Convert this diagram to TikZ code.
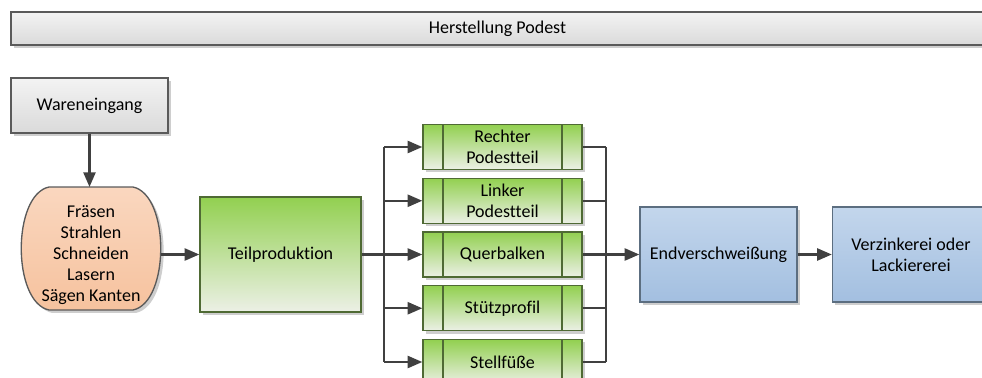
\documentclass[tikz,border=0pt]{standalone}
\usepackage{fontspec}
\setmainfont{Carlito}[Ligatures={NoCommon}]
\usetikzlibrary{arrows.meta,shadows}
\definecolor{linegray}{HTML}{404040}
\definecolor{edgegray}{HTML}{5A5A5A}
\definecolor{edgegreen}{HTML}{4F6A34}
\definecolor{edgeblue}{HTML}{5C6E80}
\definecolor{greentop}{HTML}{92D050}
\definecolor{greenbot}{HTML}{ECF0E6}
\definecolor{peachtop}{HTML}{FAD7BF}
\definecolor{peachbot}{HTML}{F6C29E}
\definecolor{bluetop}{HTML}{C3D6EC}
\definecolor{bluebot}{HTML}{A3BFE0}
\definecolor{graytop}{HTML}{F3F3F3}
\definecolor{graybot}{HTML}{DADADA}
\begin{document}
\begin{tikzpicture}[x=0.75pt,y=-0.75pt,
    every node/.style={font=\fontsize{13.5}{15.8}\selectfont, align=center, inner sep=0pt},
    boxshadow/.style={drop shadow={shadow xshift=2.2pt,shadow yshift=-2.2pt,opacity=0.35,fill=black!55}},
    graybox/.style={rectangle, draw=edgegray, line width=1pt, top color=graytop, bottom color=graybot, boxshadow},
    greenbox/.style={rectangle, draw=edgegreen, line width=1pt, top color=greentop, bottom color=greenbot, boxshadow},
    bluebox/.style={rectangle, draw=edgeblue, line width=1pt, top color=bluetop, bottom color=bluebot, boxshadow},
    partbox/.style={greenbox, minimum width=119.25pt, minimum height=33.75pt,
      path picture={
        \draw[edgegreen, line width=1.2pt] ([xshift=15pt]path picture bounding box.north west) -- ([xshift=15pt]path picture bounding box.south west);
        \draw[edgegreen, line width=1.2pt] ([xshift=-15pt]path picture bounding box.north east) -- ([xshift=-15pt]path picture bounding box.south east);
      }},
    flow/.style={draw=linegray, line width=1.8pt},
    arr/.style={flow, -{Triangle[length=11pt,width=9pt]}}]
  \clip (0,0) rectangle (982,378);

  \node [graybox, minimum width=729.75pt, minimum height=24.75pt] (T) at (497.5,28.5) {Herstellung Podest};

  \node [graybox, minimum width=117.75pt, minimum height=41.25pt] (W) at (89.5,105.5) {Wareneingang};

  \draw [draw=edgegray, line width=1pt, top color=peachtop, bottom color=peachbot, boxshadow]
    (49,187) -- (133,187) .. controls (170,195) and (170,302) .. (133,310)
    -- (49,310) .. controls (12,302) and (12,195) .. (49,187) -- cycle;
  \node [minimum width=105pt, minimum height=82pt] (F) at (91,255) {Fräsen\\Strahlen\\Schneiden\\Lasern\\Sägen Kanten};
  \coordinate (FT) at (91,187);

  \node [greenbox, minimum width=120.75pt, minimum height=86.25pt] (TP) at (280.5,254.5) {Teilproduktion};

  \node [partbox] (S1) at (502.5,147) {Rechter\\Podestteil};
  \node [partbox] (S2) at (502.5,200.75) {Linker\\Podestteil};
  \node [partbox] (S3) at (502.5,254.5) {Querbalken};
  \node [partbox] (S4) at (502.5,308.25) {Stützprofil};
  \node [partbox] (S5) at (502.5,362) {Stellfüße};

  \node [bluebox, minimum width=117.75pt, minimum height=71.25pt] (E) at (718.5,254.5) {Endverschweißung};
  \node [bluebox, minimum width=117.75pt, minimum height=71.25pt] (V) at (911,254.5) {Verzinkerei oder\\Lackiererei};

  \coordinate (BL) at (384,254.5);
  \coordinate (BR) at (606,254.5);
  \coordinate (FE) at (161,254.5);

  \draw [arr] (W.south) -- (W.south |- FT);
  \draw [arr] (FE) -- (TP.west);

  \draw [flow] (TP.east) -- (BL);
  \draw [flow] (BL |- S1.west) -- (BL |- S5.west);
  \draw [arr] (BL |- S1.west) -- (S1.west);
  \draw [arr] (BL |- S2.west) -- (S2.west);
  \draw [arr] (BL |- S3.west) -- (S3.west);
  \draw [arr] (BL |- S4.west) -- (S4.west);
  \draw [arr] (BL |- S5.west) -- (S5.west);

  \draw [flow] (S1.east) -- (BR |- S1.east);
  \draw [flow] (S2.east) -- (BR |- S2.east);
  \draw [flow] (S3.east) -- (BR |- S3.east);
  \draw [flow] (S4.east) -- (BR |- S4.east);
  \draw [flow] (S5.east) -- (BR |- S5.east);
  \draw [flow] (BR |- S1.east) -- (BR |- S5.east);
  \draw [arr] (BR) -- (E.west);

  \draw [arr] (E.east) -- (V.west);
\end{tikzpicture}
\end{document}
